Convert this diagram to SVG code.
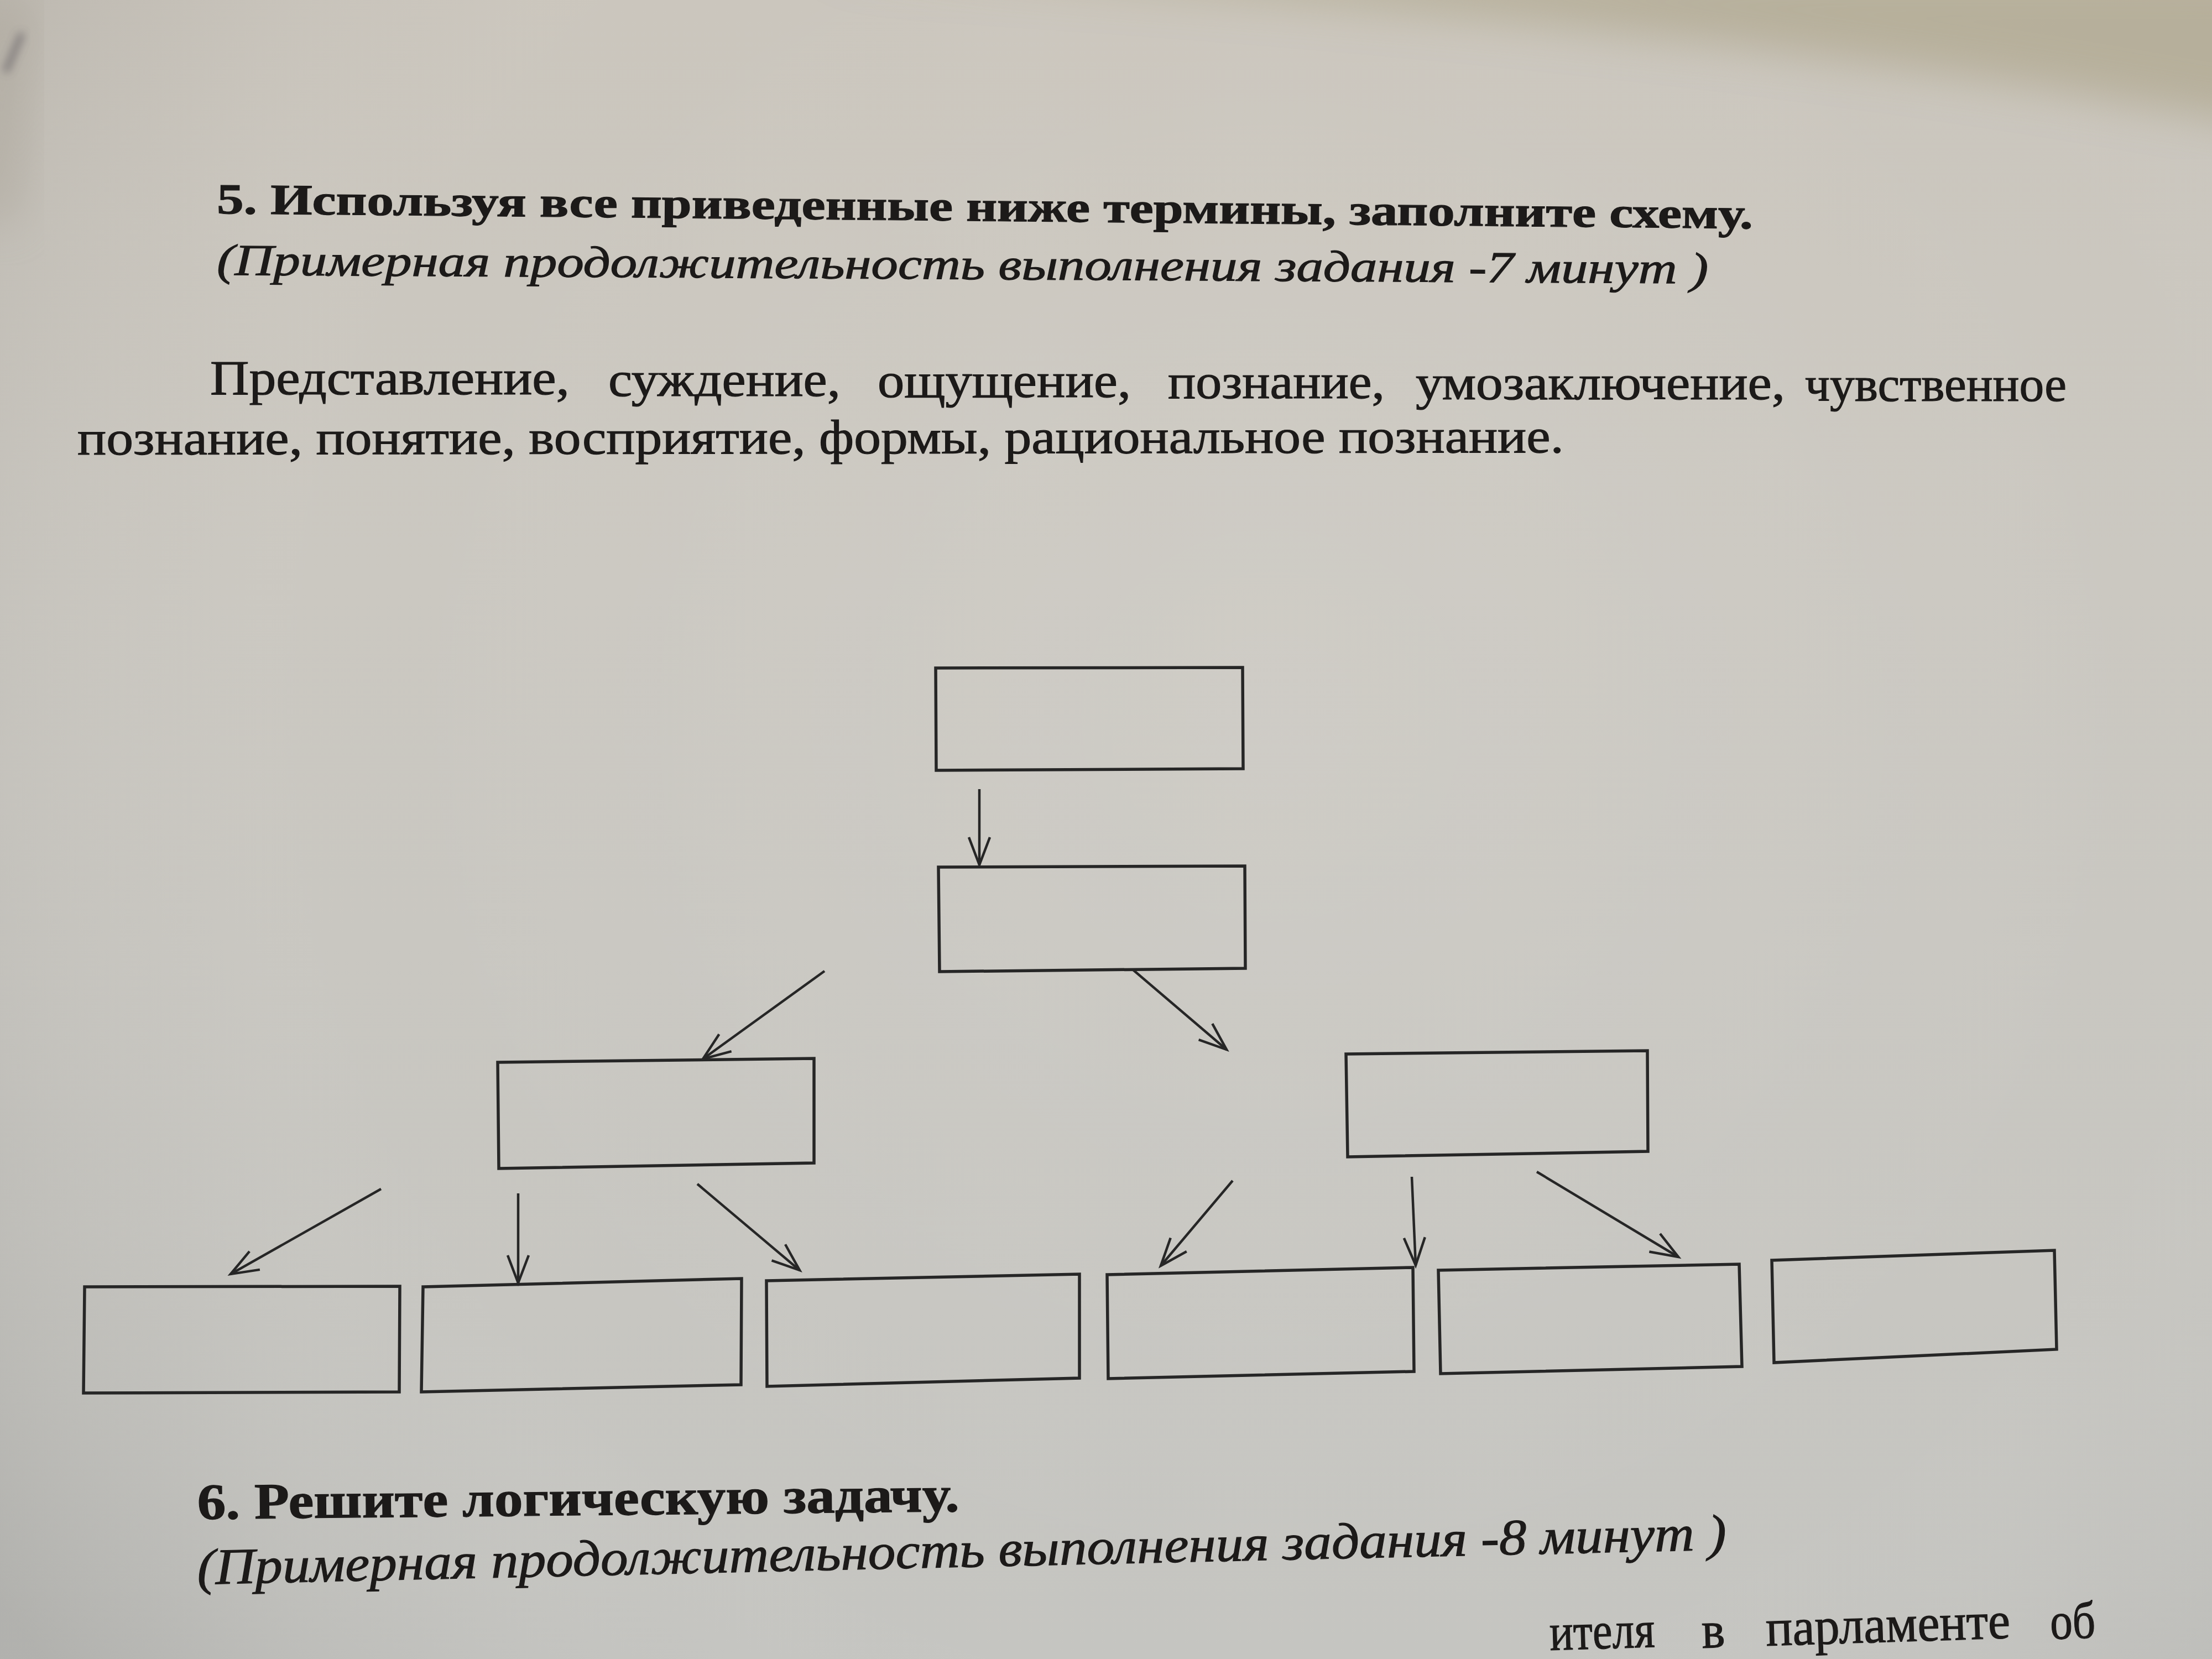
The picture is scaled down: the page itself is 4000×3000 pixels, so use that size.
<svg xmlns="http://www.w3.org/2000/svg" width="4000" height="3000" viewBox="0 0 4000 3000">
<defs>
<linearGradient id="bg" x1="0" y1="0" x2="0" y2="1">
<stop offset="0" stop-color="#cbc6bd"/>
<stop offset="0.35" stop-color="#cbc8c1"/>
<stop offset="1" stop-color="#c5c5c1"/>
</linearGradient>
<radialGradient id="vig" cx="2300" cy="1300" r="2800" gradientUnits="userSpaceOnUse">
<stop offset="0" stop-color="#ffffff" stop-opacity="0.08"/>
<stop offset="0.6" stop-color="#ffffff" stop-opacity="0"/>
<stop offset="1" stop-color="#000000" stop-opacity="0.10"/>
</radialGradient>
<filter id="soft" x="-20%" y="-20%" width="140%" height="140%"><feGaussianBlur stdDeviation="40"/></filter>
<filter id="soft2" x="-50%" y="-50%" width="200%" height="200%"><feGaussianBlur stdDeviation="8"/></filter>
<marker id="arr" markerUnits="userSpaceOnUse" markerWidth="70" markerHeight="60" viewBox="-60 -30 70 60" refX="0" refY="0" orient="auto">
<path d="M-50,-19 L0,0 L-50,19" fill="none" stroke="#262626" stroke-width="4.5" stroke-linejoin="miter"/>
</marker>
<style>
.box{fill:none;stroke:#262626;stroke-width:5.5;stroke-linejoin:miter}
.con line{stroke:#262626;stroke-width:4.5;marker-end:url(#arr)}
.t{font-family:"Liberation Serif","Times New Roman",serif;fill:#1c1a19;stroke:#1c1a19;stroke-width:1.2}
.b{font-weight:bold}
.i{font-style:italic}
</style>
</defs>

<rect x="0" y="0" width="4000" height="3000" fill="url(#bg)"/>
<rect x="0" y="0" width="4000" height="3000" fill="url(#vig)"/>
<path d="M1450,-60 Q3000,20 4100,230 L4100,-60 Z" fill="#b0a890" opacity="0.75" filter="url(#soft)"/>
<path d="M-40,0 L60,0 L30,400 L-40,400 Z" fill="#a8a296" opacity="0.5" filter="url(#soft)"/>
<line x1="40" y1="60" x2="10" y2="130" stroke="#4e4a52" stroke-width="10" opacity="0.6" filter="url(#soft2)"/>

<g id="texts">
<text class="t b" x="392" y="386" font-size="78" textLength="2778" lengthAdjust="spacingAndGlyphs" transform="rotate(0.56 392 386)">5. Используя все приведенные ниже термины, заполните схему.</text>
<text class="t i" x="392" y="497" font-size="80" textLength="2697" lengthAdjust="spacingAndGlyphs" transform="rotate(0.33 392 497)">(Примерная продолжительность выполнения задания -7 минут )</text>

<text class="t" x="380" y="713" font-size="88" textLength="650" lengthAdjust="spacingAndGlyphs">Представление,</text>
<text class="t" x="1100" y="716" font-size="88" textLength="420" lengthAdjust="spacingAndGlyphs">суждение,</text>
<text class="t" x="1587" y="718" font-size="88" textLength="458" lengthAdjust="spacingAndGlyphs">ощущение,</text>
<text class="t" x="2112" y="720" font-size="88" textLength="392" lengthAdjust="spacingAndGlyphs">познание,</text>
<text class="t" x="2560" y="722" font-size="88" textLength="668" lengthAdjust="spacingAndGlyphs">умозаключение,</text>
<text class="t" x="3264" y="725" font-size="88" textLength="473" lengthAdjust="spacingAndGlyphs">чувственное</text>
<text class="t" x="140" y="822" font-size="88" textLength="2688" lengthAdjust="spacingAndGlyphs" transform="rotate(-0.08 140 822)">познание, понятие, восприятие, формы, рациональное познание.</text>

<text class="t b" x="357" y="2747" font-size="92" textLength="1378" lengthAdjust="spacingAndGlyphs" transform="rotate(-0.58 357 2747)">6. Решите логическую задачу.</text>
<text class="t i" x="357" y="2865" font-size="92" textLength="2766" lengthAdjust="spacingAndGlyphs" transform="rotate(-1.3 357 2865)">(Примерная продолжительность выполнения задания -8 минут )</text>

<text class="t" x="2803" y="2984" font-size="95" textLength="190" lengthAdjust="spacingAndGlyphs" transform="rotate(-1.8 2803 2984)">ителя</text>
<text class="t" x="3078" y="2980" font-size="95" textLength="42" lengthAdjust="spacingAndGlyphs" transform="rotate(-1.8 3078 2980)">в</text>
<text class="t" x="3194" y="2976" font-size="95" textLength="442" lengthAdjust="spacingAndGlyphs" transform="rotate(-1.8 3194 2976)">парламенте</text>
<text class="t" x="3708" y="2964" font-size="95" textLength="82" lengthAdjust="spacingAndGlyphs" transform="rotate(-1.8 3708 2964)">об</text>
</g>

<g id="node-top"><polygon class="box" points="1692,1208 2247,1207 2248,1390 1693,1393"/></g>
<g id="node-second"><polygon class="box" points="1697,1568 2251,1566 2252,1751 1699,1757"/></g>
<g id="node-left"><polygon class="box" points="900,1921 1472,1914 1472,2103 902,2113"/></g>
<g id="node-right"><polygon class="box" points="2434,1906 2979,1900 2980,2082 2437,2092"/></g>
<g id="node-b1"><polygon class="box" points="153,2327 723,2326 722,2517 151,2519"/></g>
<g id="node-b2"><polygon class="box" points="765,2327 1341,2312 1340,2504 762,2517"/></g>
<g id="node-b3"><polygon class="box" points="1386,2316 1952,2304 1952,2492 1387,2507"/></g>
<g id="node-b4"><polygon class="box" points="2002,2305 2555,2292 2557,2480 2004,2493"/></g>
<g id="node-b5"><polygon class="box" points="2601,2297 3145,2286 3150,2471 2605,2484"/></g>
<g id="node-b6"><polygon class="box" points="3204,2279 3715,2261 3719,2440 3208,2464"/></g>

<g id="connectors" class="con">
<line x1="1771" y1="1427" x2="1771" y2="1564"/>
<line x1="1491" y1="1756" x2="1271" y2="1915"/>
<line x1="2048" y1="1753" x2="2218" y2="1898"/>
<line x1="689" y1="2150" x2="417" y2="2304"/>
<line x1="937" y1="2158" x2="937" y2="2320"/>
<line x1="1261" y1="2141" x2="1446" y2="2297"/>
<line x1="2229" y1="2135" x2="2099" y2="2289"/>
<line x1="2553" y1="2128" x2="2560" y2="2288"/>
<line x1="2779" y1="2119" x2="3035" y2="2273"/>
</g>
</svg>
